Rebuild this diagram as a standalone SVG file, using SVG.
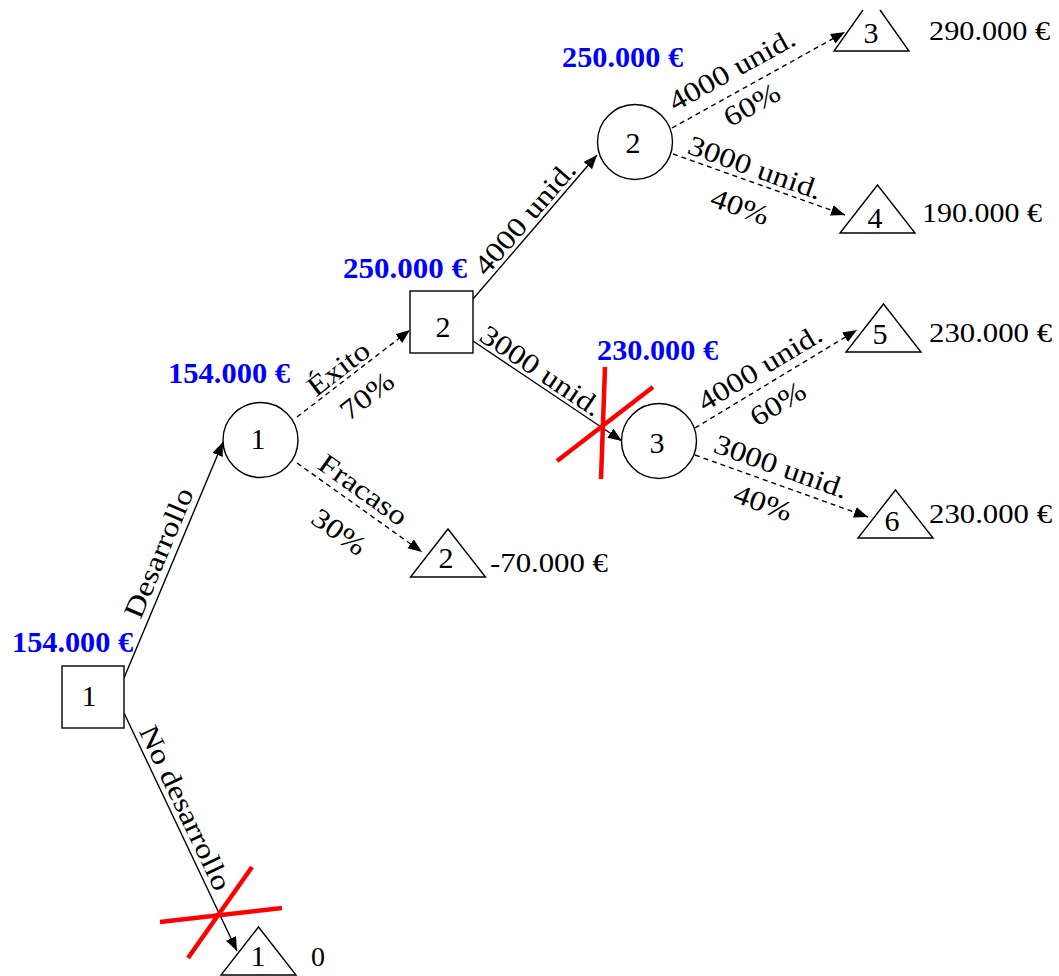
<svg xmlns="http://www.w3.org/2000/svg" width="1059" height="976" viewBox="0 0 1059 976">
  <style>
    .node { fill: #ffffff; stroke: #000000; stroke-width: 1.4; }
    .lbl { font-family: "Liberation Serif", "Times New Roman", serif; font-size: 30px; fill: #000000; text-anchor: middle; }
    .val { font-family: "Liberation Serif", "Times New Roman", serif; font-size: 28px; fill: #000000; }
    .ev { font-family: "Liberation Serif", "Times New Roman", serif; font-size: 29px; font-weight: bold; fill: #0000ff; }
    .edge { font-family: "Liberation Serif", "Times New Roman", serif; font-size: 28px; fill: #000000; text-anchor: middle; }
    .solid { fill: none; stroke: #000000; stroke-width: 1.4; marker-end: url(#arrow); }
    .dash { fill: none; stroke: #000000; stroke-width: 1.4; stroke-dasharray: 5 4; marker-end: url(#arrow); }
    .cut { fill: none; stroke: #ff0000; stroke-width: 4.5; }
  </style>
  <defs>
    <marker id="arrow" markerUnits="userSpaceOnUse" markerWidth="16" markerHeight="12" refX="14" refY="5.5" orient="auto">
      <path d="M0,0 L14,5.5 L0,11 z" fill="#000000"/>
    </marker>
  </defs>

  <rect width="1059" height="976" fill="#ffffff"/>

  <!-- branches -->
  <g id="connectors">
    <line class="solid" x1="124" y1="678" x2="223" y2="442"/>
    <line class="solid" x1="124" y1="713" x2="237" y2="951"/>
    <line class="dash" x1="297" y1="417" x2="410" y2="330"/>
    <line class="dash" x1="297" y1="463" x2="422" y2="552"/>
    <line class="solid" x1="473" y1="299" x2="597" y2="155"/>
    <line class="solid" x1="473" y1="341" x2="622" y2="441"/>
    <line class="dash" x1="672" y1="128" x2="845" y2="32"/>
    <line class="dash" x1="673" y1="154" x2="845" y2="215"/>
    <line class="dash" x1="695" y1="428" x2="857" y2="330"/>
    <line class="dash" x1="695" y1="455" x2="868" y2="517"/>

    <!-- branch labels -->
    <g transform="translate(159,553) rotate(-67.2) scale(1.17,1)"><text class="edge" y="9">Desarrollo</text></g>
    <g transform="translate(185,808) rotate(64.6) scale(1.17,1)"><text class="edge" y="9">No desarrollo</text></g>
    <g transform="translate(338,368) rotate(-37.6) scale(1.17,1)"><text class="edge" y="10">Éxito</text></g>
    <g transform="translate(367,396) rotate(-37.6) scale(1.17,1)"><text class="edge" y="9">70%</text></g>
    <g transform="translate(363,490) rotate(35.5) scale(1.17,1)"><text class="edge" y="9">Fracaso</text></g>
    <g transform="translate(339,532) rotate(35.5) scale(1.17,1)"><text class="edge" y="9">30%</text></g>
    <g transform="translate(525,218) rotate(-49.3) scale(1.17,1)"><text class="edge" y="9">4000 unid.</text></g>
    <g transform="translate(541,371) rotate(33.9) scale(1.17,1)"><text class="edge" y="9">3000 unid.</text></g>
    <g transform="translate(732,70) rotate(-29) scale(1.17,1)"><text class="edge" y="9">4000 unid.</text></g>
    <g transform="translate(752,105) rotate(-29) scale(1.17,1)"><text class="edge" y="9">60%</text></g>
    <g transform="translate(755,168) rotate(19.5) scale(1.17,1)"><text class="edge" y="9">3000 unid.</text></g>
    <g transform="translate(740,207) rotate(19.5) scale(1.17,1)"><text class="edge" y="9">40%</text></g>
    <g transform="translate(760,368) rotate(-31.2) scale(1.17,1)"><text class="edge" y="9">4000 unid.</text></g>
    <g transform="translate(778,404) rotate(-31.2) scale(1.17,1)"><text class="edge" y="9">60%</text></g>
    <g transform="translate(781,467) rotate(19.7) scale(1.17,1)"><text class="edge" y="9">3000 unid.</text></g>
    <g transform="translate(763,503) rotate(19.7) scale(1.17,1)"><text class="edge" y="9">40%</text></g>
  </g>

  <!-- decision nodes -->
  <g id="decision-1">
    <rect class="node" x="62" y="666" width="62" height="62"/>
    <text class="lbl" x="89" y="706">1</text>
    <text class="ev" x="12" y="652" textLength="121" lengthAdjust="spacingAndGlyphs">154.000 €</text>
  </g>
  <g id="decision-2">
    <rect class="node" x="410" y="291" width="63" height="62"/>
    <text class="lbl" x="443" y="337">2</text>
    <text class="ev" x="343" y="278" textLength="124" lengthAdjust="spacingAndGlyphs">250.000 €</text>
  </g>

  <!-- chance nodes -->
  <g id="chance-1">
    <circle class="node" cx="260.5" cy="440" r="37.5"/>
    <text class="lbl" x="258" y="449">1</text>
    <text class="ev" x="168" y="383" textLength="122" lengthAdjust="spacingAndGlyphs">154.000 €</text>
  </g>
  <g id="chance-2">
    <circle class="node" cx="635" cy="142" r="37.5"/>
    <text class="lbl" x="633" y="153">2</text>
    <text class="ev" x="562" y="67" textLength="121" lengthAdjust="spacingAndGlyphs">250.000 €</text>
  </g>
  <g id="chance-3">
    <circle class="node" cx="659" cy="441" r="37.5"/>
    <text class="lbl" x="657" y="453">3</text>
    <text class="ev" x="597" y="360" textLength="121" lengthAdjust="spacingAndGlyphs">230.000 €</text>
  </g>

  <!-- terminal nodes -->
  <g id="end-1">
    <path class="node" d="M258.5,927 L296,975 L221,975 z"/>
    <text class="lbl" x="258" y="966">1</text>
    <text class="val" x="311" y="966">0</text>
  </g>
  <g id="end-2">
    <path class="node" d="M448,529 L485.5,577 L410.5,577 z"/>
    <text class="lbl" x="446" y="568">2</text>
    <text class="val" x="490" y="572" textLength="118" lengthAdjust="spacingAndGlyphs">-70.000 €</text>
  </g>
  <g id="end-3">
    <path class="node" d="M863,10 L834,51 L909,51 L880,10"/>
    <text class="lbl" x="871" y="43">3</text>
    <text class="val" x="929" y="40" textLength="121" lengthAdjust="spacingAndGlyphs">290.000 €</text>
  </g>
  <g id="end-4">
    <path class="node" d="M877.5,185 L915,233 L840,233 z"/>
    <text class="lbl" x="875" y="228">4</text>
    <text class="val" x="922" y="222" textLength="120" lengthAdjust="spacingAndGlyphs">190.000 €</text>
  </g>
  <g id="end-5">
    <path class="node" d="M883.5,304 L921,352 L846,352 z"/>
    <text class="lbl" x="880" y="344">5</text>
    <text class="val" x="929" y="342" textLength="123" lengthAdjust="spacingAndGlyphs">230.000 €</text>
  </g>
  <g id="end-6">
    <path class="node" d="M895.5,490 L933,538 L858,538 z"/>
    <text class="lbl" x="892" y="531">6</text>
    <text class="val" x="929" y="523" textLength="123" lengthAdjust="spacingAndGlyphs">230.000 €</text>
  </g>

  <!-- pruned branches -->
  <g id="pruned">
    <line class="cut" x1="557" y1="461" x2="653" y2="387"/>
    <line class="cut" x1="605" y1="367" x2="601" y2="479"/>
    <line class="cut" x1="160" y1="922" x2="282" y2="908"/>
    <line class="cut" x1="188" y1="958" x2="252" y2="867"/>
  </g>
</svg>
